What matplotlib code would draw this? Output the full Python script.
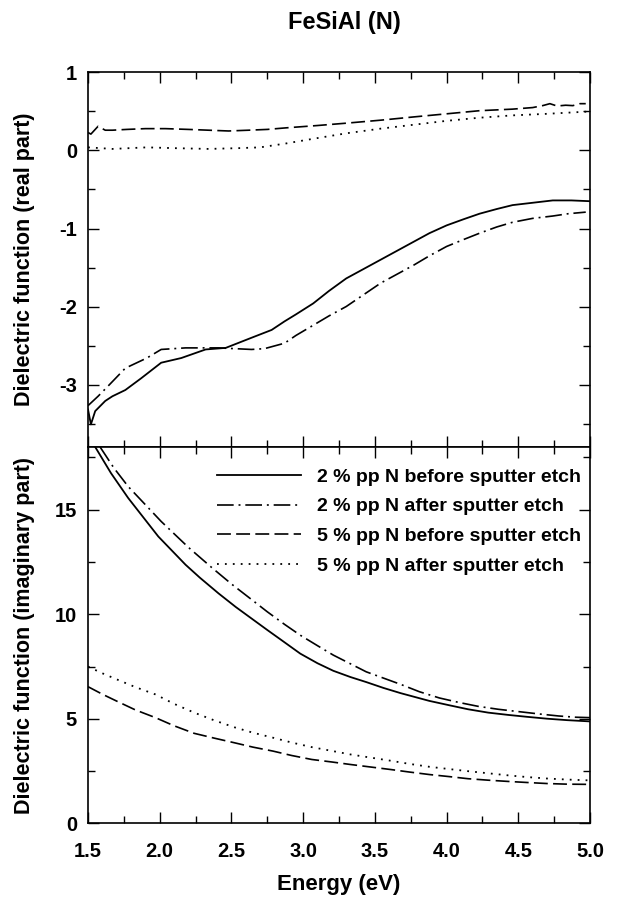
import matplotlib
matplotlib.use('Agg')
import matplotlib.pyplot as plt
from matplotlib.ticker import MultipleLocator, FormatStrFormatter

plt.rcParams['font.family'] = ['Liberation Sans', 'DejaVu Sans']
plt.rcParams['font.weight'] = 'bold'
plt.rcParams['lines.scale_dashes'] = False
plt.rcParams['axes.unicode_minus'] = False

# real part
x_r_2b = [1.50, 1.52, 1.55, 1.62, 1.67, 1.76, 1.87, 2.01, 2.15, 2.32, 2.46, 2.64, 2.78, 2.87,
          2.95, 3.07, 3.18, 3.30, 3.42, 3.54, 3.66, 3.77, 3.88, 4.0, 4.12, 4.23, 4.35, 4.46,
          4.60, 4.74, 4.87, 5.0]
y_r_2b = [-3.32, -3.51, -3.34, -3.21, -3.15, -3.07, -2.92, -2.72, -2.66, -2.55, -2.53, -2.40,
          -2.30, -2.19, -2.10, -1.96, -1.80, -1.64, -1.52, -1.40, -1.28, -1.17, -1.06, -0.96,
          -0.88, -0.81, -0.75, -0.70, -0.67, -0.64, -0.64, -0.65]

x_r_2a = [1.50, 1.57, 1.65, 1.76, 1.91, 2.01, 2.18, 2.41, 2.64, 2.73, 2.87,
          2.95, 3.07, 3.18, 3.30, 3.42, 3.54, 3.66, 3.77, 3.88, 4.0, 4.12, 4.23, 4.35, 4.46,
          4.60, 4.74, 4.85, 4.97]
y_r_2a = [-3.27, -3.15, -3.00, -2.79, -2.66, -2.55, -2.53, -2.53, -2.55, -2.54, -2.47,
          -2.37, -2.24, -2.12, -2.00, -1.85, -1.70, -1.58, -1.47, -1.35, -1.23, -1.14,
          -1.06, -0.98, -0.92, -0.87, -0.84, -0.81, -0.79]

x_r_5b = [1.50, 1.52, 1.57, 1.62, 1.67, 1.77, 1.90, 2.04, 2.20, 2.34, 2.48, 2.62, 2.75, 2.88,
          3.10, 3.30, 3.55, 3.77, 4.0, 4.23, 4.46, 4.60, 4.67, 4.72, 4.77, 4.83, 4.88, 4.93,
          4.97]
y_r_5b = [0.23, 0.21, 0.31, 0.26, 0.26, 0.27, 0.28, 0.28, 0.27, 0.26, 0.25, 0.26, 0.27, 0.29,
          0.32, 0.35, 0.39, 0.43, 0.47, 0.51, 0.53, 0.55, 0.575, 0.60, 0.57, 0.58, 0.575,
          0.60, 0.60]

x_r_5a = [1.50, 1.67, 1.91, 2.10, 2.34, 2.55, 2.70, 2.88, 3.07, 3.30, 3.54, 3.77, 4.0, 4.23,
          4.46, 4.70, 5.0]
y_r_5a = [0.04, 0.02, 0.04, 0.03, 0.02, 0.03, 0.04, 0.09, 0.15, 0.22, 0.28, 0.33, 0.38,
          0.42, 0.45, 0.47, 0.50]

# imaginary part
x_i_2b = [1.55, 1.66, 1.78, 1.99, 2.18, 2.28, 2.41, 2.53, 2.64, 2.75, 2.85, 2.98, 3.10, 3.21,
          3.33, 3.44, 3.56, 3.68, 3.88, 4.02, 4.15, 4.29, 4.43, 4.56, 4.70, 4.84, 5.0]
y_i_2b = [18.0, 16.75, 15.56, 13.72, 12.37, 11.75, 11.0, 10.35, 9.80, 9.25, 8.76, 8.12, 7.66,
          7.30, 7.0, 6.76, 6.48, 6.23, 5.86, 5.65, 5.46, 5.30, 5.19, 5.10, 5.01, 4.94, 4.88]

x_i_2a = [1.584, 1.68, 1.78, 2.01, 2.20, 2.36, 2.50, 2.66, 2.75, 2.87, 2.98, 3.10, 3.21, 3.44,
          3.68, 3.81, 3.95, 4.09, 4.22, 4.36, 4.50, 4.64, 4.78, 4.90, 5.0]
y_i_2a = [18.0, 17.0, 16.11, 14.44, 13.2, 12.25, 11.45, 10.6, 10.12, 9.52, 9.0, 8.5, 8.05,
          7.25, 6.65, 6.30, 6.00, 5.78, 5.60, 5.46, 5.35, 5.24, 5.14, 5.08, 5.06]

x_i_5b = [1.50, 1.60, 1.70, 1.83, 1.97, 2.10, 2.24, 2.38, 2.52, 2.65, 2.79, 2.92, 3.06, 3.20,
          3.33, 3.47, 3.61, 3.74, 3.88, 4.02, 4.15, 4.29, 4.43, 4.56, 4.70, 4.84, 4.99]
y_i_5b = [6.54, 6.18, 5.85, 5.43, 5.06, 4.67, 4.31, 4.08, 3.86, 3.65, 3.46, 3.25, 3.06, 2.94,
          2.82, 2.70, 2.58, 2.46, 2.34, 2.24, 2.14, 2.07, 2.01, 1.96, 1.91, 1.88, 1.87]

x_i_5a = [1.50, 1.60, 1.70, 1.83, 1.97, 2.10, 2.24, 2.38, 2.52, 2.65, 2.79, 2.92, 3.06, 3.20,
          3.33, 3.47, 3.61, 3.74, 3.88, 4.02, 4.15, 4.29, 4.43, 4.56, 4.70, 4.84, 5.0]
y_i_5a = [7.50, 7.18, 6.89, 6.52, 6.17, 5.72, 5.30, 4.93, 4.60, 4.34, 4.10, 3.87, 3.65, 3.47,
          3.30, 3.15, 3.00, 2.85, 2.71, 2.60, 2.50, 2.40, 2.30, 2.22, 2.15, 2.10, 2.06]

labels = ['2 % pp N before sputter etch', '2 % pp N after sputter etch',
          '5 % pp N before sputter etch', '5 % pp N after sputter etch']

solid = dict(color='black', lw=1.3, ls='-')
dashdot = dict(color='black', lw=1.2, dashes=(12, 3.5, 1.4, 3.5))
dashed = dict(color='black', lw=1.2, dashes=(10, 3.8))
dotted = dict(color='black', lw=1.3, dashes=(1.3, 4.4))

fig = plt.figure(figsize=(6.23, 8.99), dpi=100)
ax1 = fig.add_axes([0.1413, 0.5028, 0.8058, 0.4166])
ax2 = fig.add_axes([0.1413, 0.0840, 0.8058, 0.4188])

ax1.plot(x_r_2b, y_r_2b, **solid)
ax1.plot(x_r_2a, y_r_2a, **dashdot)
ax1.plot(x_r_5b, y_r_5b, **dashed)
ax1.plot(x_r_5a, y_r_5a, **dotted)

ax2.plot(x_i_2b, y_i_2b, label=labels[0], **solid)
ax2.plot(x_i_2a, y_i_2a, label=labels[1], **dashdot)
ax2.plot(x_i_5b, y_i_5b, label=labels[2], **dashed)
ax2.plot(x_i_5a, y_i_5a, label=labels[3], **dotted)

for ax in (ax1, ax2):
    ax.set_xlim(1.5, 5.0)
    ax.xaxis.set_major_locator(MultipleLocator(0.5))
    ax.xaxis.set_minor_locator(MultipleLocator(0.25))
    ax.tick_params(which='both', direction='in', top=True, right=True, width=1.0,
                   labelsize=14.5)
    ax.tick_params(which='major', length=8)
    ax.tick_params(which='minor', length=5)
    ax.tick_params(axis='y', pad=8)
    for sp in ax.spines.values():
        sp.set_linewidth(1.2)
    ax.yaxis.set_label_coords(-0.106, 0.5)

ax1.set_ylim(-3.8, 1.0)
ax1.yaxis.set_major_locator(MultipleLocator(1))
ax1.yaxis.set_minor_locator(MultipleLocator(0.5))
ax1.tick_params(axis='x', labelbottom=False)
ax1.set_ylabel('Dielectric function (real part)', fontsize=15.5, fontweight='bold')

ax2.set_ylim(0, 18)
ax2.yaxis.set_major_locator(MultipleLocator(5))
ax2.yaxis.set_minor_locator(MultipleLocator(2.5))
ax2.xaxis.set_major_formatter(FormatStrFormatter('%.1f'))
ax2.tick_params(axis='x', pad=13)
ax2.set_ylabel('Dielectric function (imaginary part)', fontsize=15.5, fontweight='bold')
ax2.set_xlabel('Energy (eV)', fontsize=16, fontweight='bold', labelpad=10)

ax2.legend(loc='upper left', bbox_to_anchor=(0.257, 0.944), frameon=False,
           fontsize=14, handlelength=4.3, handletextpad=0.82, labelspacing=0.62,
           borderpad=0, borderaxespad=0)

fig.text(0.552, 1 - 22 / 899, 'FeSiAl (N)', ha='center', va='center', fontsize=17,
         fontweight='bold')

fig.savefig('out.png', dpi=100)
